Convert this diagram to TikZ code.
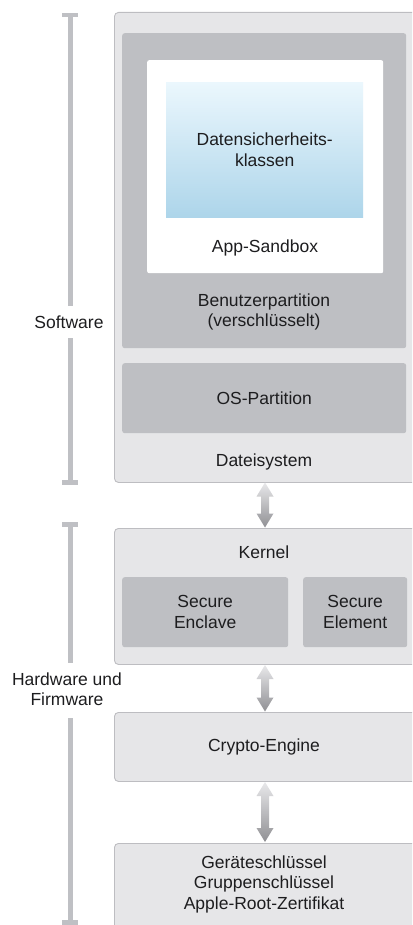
\documentclass[tikz,border=0pt]{standalone}
\usepackage{fontspec}
\setmainfont{Liberation Sans}
\usetikzlibrary{calc}
\definecolor{outerfill}{HTML}{E6E6E8}
\definecolor{outerline}{HTML}{BDBDC1}
\definecolor{innergray}{HTML}{BEBFC3}
\definecolor{gradtop}{HTML}{EBF7FD}
\definecolor{gradbot}{HTML}{ADD5EA}
\definecolor{barcol}{HTML}{BFC0C4}
\definecolor{txt}{HTML}{1D1D1F}
\definecolor{arrtop}{HTML}{E8E8EA}
\definecolor{arrbot}{HTML}{909094}
\tikzset{
  outerbox/.style={draw=outerline, fill=outerfill, line width=0.9pt, rounded corners=4pt, anchor=north west, inner sep=0pt},
  innerbox/.style={fill=innergray, rounded corners=2.5pt, anchor=north west, inner sep=0pt},
  whitebox/.style={fill=white, rounded corners=2pt, anchor=north west, inner sep=0pt},
  gradbox/.style={top color=gradtop, bottom color=gradbot, anchor=north west, inner sep=0pt},
  lbl/.style={text=txt, font=\fontsize{17.5}{20.5}\selectfont, align=center, inner sep=0pt},
  barline/.style={draw=barcol, line width=5pt},
  barcap/.style={draw=barcol, line width=4.5pt},
  arrowshade/.style={top color=arrtop, bottom color=arrbot, draw=none}
}
\newcommand{\dblarr}[2]{%
  \shade[arrowshade] (#1) -- ($(#1)+(8.5,14)$) -- ($(#1)+(4,14)$) -- ($(#2)+(4,-14)$) -- ($(#2)+(8.5,-14)$) -- (#2) -- ($(#2)+(-8.5,-14)$) -- ($(#2)+(-4,-14)$) -- ($(#1)+(-4,14)$) -- ($(#1)+(-8.5,14)$) -- cycle;}
\begin{document}
\begin{tikzpicture}[x=1pt, y=-1pt]
\useasboundingbox (0,0) rectangle (412,925);
\clip (0,0) rectangle (412,925);
% software
\node[outerbox, minimum width=310pt, minimum height=470pt] (sw) at (114,12) {};
\node[innerbox, minimum width=284pt, minimum height=315pt] (user) at (122,33) {};
\node[whitebox, minimum width=236pt, minimum height=213pt] (sandbox) at (147,60) {};
\node[gradbox, minimum width=197pt, minimum height=135pt] (dsk) at (166,82) {};
\node[lbl] (dsktxt) at (dsk.center) {Datensicherheits-\\klassen};
\node[lbl] (sbtxt) at (265,248) {App-Sandbox};
\node[lbl] (usertxt) at (264,312) {Benutzerpartition\\(verschlüsselt)};
\node[innerbox, minimum width=284pt, minimum height=70pt] (os) at (122,363) {};
\node[lbl] (ostxt) at (os.center) {OS-Partition};
\node[lbl] (fstxt) at (264,462) {Dateisystem};
% kernel
\node[outerbox, minimum width=310pt, minimum height=136pt] (kernel) at (114,528) {};
\node[lbl] (ktxt) at (264,552) {Kernel};
\node[innerbox, minimum width=166pt, minimum height=70pt] (enclave) at (122,577) {};
\node[lbl] (enctxt) at (enclave.center) {Secure\\Enclave};
\node[innerbox, minimum width=104pt, minimum height=70pt] (element) at (303,577) {};
\node[lbl] (eltxt) at (element.center) {Secure\\Element};
% crypto
\node[outerbox, minimum width=310pt, minimum height=69pt] (crypto) at (114,712) {};
\node[lbl] (crtxt) at (264,747) {Crypto-Engine};
% keys
\node[outerbox, minimum width=310pt, minimum height=100pt] (keys) at (114,843) {};
\node[lbl] (keytxt) at (264,884) {Geräteschlüssel\\Gruppenschlüssel\\Apple-Root-Zertifikat};
% arrows
\coordinate (a1t) at (265,482.5);
\coordinate (a1b) at (265,527.5);
\coordinate (a2t) at (265,665);
\coordinate (a2b) at (265,711.5);
\coordinate (a3t) at (265,782);
\coordinate (a3b) at (265,842);
\dblarr{a1t}{a1b}
\dblarr{a2t}{a2b}
\dblarr{a3t}{a3b}
% left brackets
\node[lbl] (swlbl) at (69,322) {Software};
\node[lbl] (hwlbl) at (67,689) {Hardware und\\Firmware};
\draw[barline] (70,14) -- (70,306);
\draw[barline] (70,338) -- (70,484);
\draw[barcap] (62,15) -- (78,15);
\draw[barcap] (62,482.5) -- (78,482.5);
\draw[barline] (70,523) -- (70,663);
\draw[barline] (70,718) -- (70,924);
\draw[barcap] (62,524.5) -- (78,524.5);
\draw[barcap] (62,922.5) -- (78,922.5);
\end{tikzpicture}
\end{document}
